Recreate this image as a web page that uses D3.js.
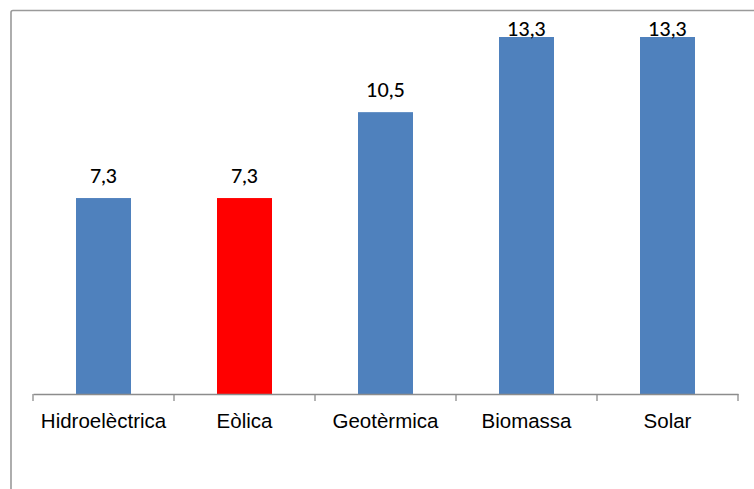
<!DOCTYPE html>
<html>
<head>
<meta charset="utf-8">
<script src="https://cdn.jsdelivr.net/npm/d3@7"></script>
<style>
  html, body { margin: 0; padding: 0; background: #fff; }
  svg { display: block; }
</style>
</head>
<body>
<svg id="chart" width="754" height="489"></svg>
<script>
const categories = ["Hidroelèctrica", "Eòlica", "Geotèrmica", "Biomassa", "Solar"];
const values = [7.3, 7.3, 10.5, 13.3, 13.3];
const valueLabels = ["7,3", "7,3", "10,5", "13,3", "13,3"];
const highlighted = ["Eòlica"];

const svg = d3.select("#chart");

// outer frame (clipped by the window on the right and bottom)
svg.append("rect")
  .attr("x", 11).attr("y", 10.5)
  .attr("width", 900).attr("height", 700)
  .attr("rx", 2)
  .attr("fill", "none")
  .attr("stroke", "#9a9a9a")
  .attr("stroke-width", 1.6);

const x0 = 33, x1 = 738, yBase = 394;

const xBand = d3.scaleBand().domain(categories).range([x0, x1])
  .paddingInner(0.61).paddingOuter(0.305);
const xCell = d3.scaleBand().domain(categories).range([x0, x1]).padding(0);
const y = d3.scaleLinear().domain([0, 13.3]).range([yBase, 37]);

const data = categories.map((c, i) => ({ c, v: values[i], label: valueLabels[i] }));

// bars
svg.append("g").selectAll("rect").data(data).join("rect")
  .attr("x", d => xBand(d.c))
  .attr("y", d => y(d.v))
  .attr("width", xBand.bandwidth())
  .attr("height", d => yBase - y(d.v))
  .attr("fill", d => highlighted.includes(d.c) ? "#ff0000" : "#4f81bd");

// axis
const axis = d3.axisBottom(xCell).tickSize(0).tickPadding(0);
const gAxis = svg.append("g").attr("transform", `translate(0,${yBase})`).call(axis);
gAxis.select(".domain").attr("stroke", "#8c8c8c").attr("stroke-width", 1.3);
gAxis.selectAll(".tick text")
  .attr("y", 34)
  .attr("dy", 0)
  .attr("fill", "#000")
  .style("font-family", "'Liberation Sans', Arial, sans-serif")
  .style("font-size", "20.5px");

// boundary ticks
const bounds = categories.map(c => xCell(c)).concat([x1]);
svg.append("g").selectAll("line").data(bounds).join("line")
  .attr("x1", d => d).attr("x2", d => d)
  .attr("y1", yBase).attr("y2", yBase + 7)
  .attr("stroke", "#8c8c8c").attr("stroke-width", 1.3);

// value labels
svg.append("g").selectAll("text").data(data).join("text")
  .attr("x", d => xBand(d.c) + xBand.bandwidth() / 2)
  .attr("y", d => Math.max(y(d.v) - 15, 36))
  .attr("text-anchor", "middle")
  .attr("fill", "#000")
  .style("font-family", "Lato, 'Open Sans', sans-serif")
  .style("font-size", "19.5px")
  .style("font-weight", "500")
  .text(d => d.label);
</script>
</body>
</html>
